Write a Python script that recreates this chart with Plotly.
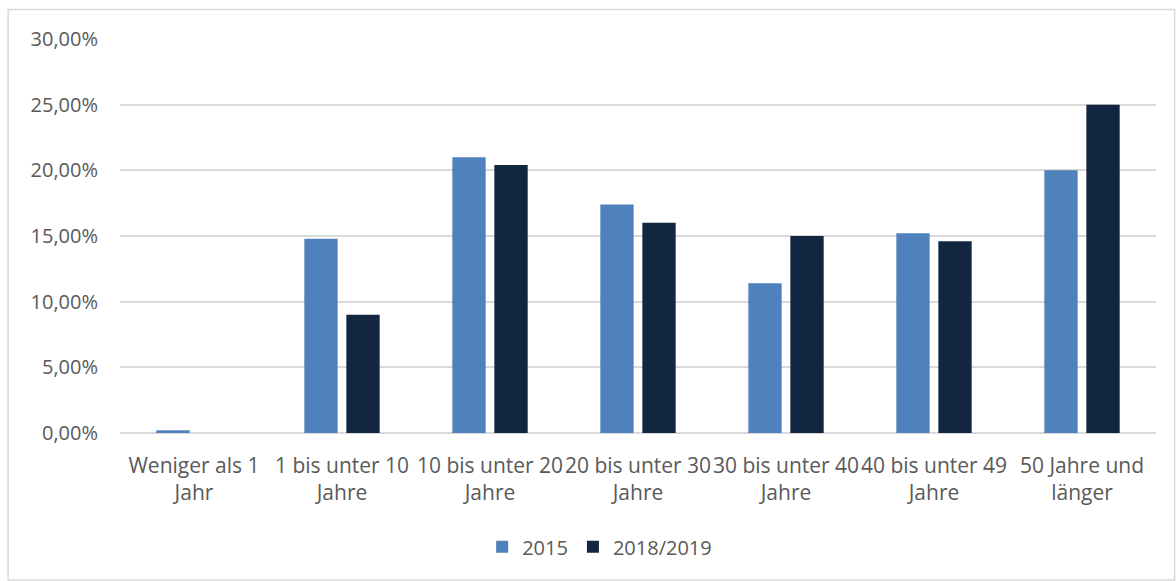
import plotly.graph_objects as go

categories = ["Weniger als 1<br>Jahr", "1 bis unter 10<br>Jahre", "10 bis unter 20<br>Jahre",
              "20 bis unter 30<br>Jahre", "30 bis unter 40<br>Jahre", "40 bis unter 49<br>Jahre",
              "50 Jahre und<br>länger"]
values_2015 = [0.2, 14.8, 21.0, 17.4, 11.4, 15.2, 20.0]
values_2018 = [0.0, 9.0, 20.4, 16.0, 15.0, 14.6, 25.0]
tick_values = [0, 5, 10, 15, 20, 25, 30]
tick_labels = ["0,00%", "5,00%", "10,00%", "15,00%", "20,00%", "25,00%", "30,00%"]

FONT = "Open Sans"
TXT = "#595959"

fig = go.Figure()
fig.add_trace(go.Bar(name="2015", x=categories, y=values_2015, marker_color="#4f81bd",
                     marker_line_width=0))
fig.add_trace(go.Bar(name="2018/2019", x=categories, y=values_2018, marker_color="#12263f",
                     marker_line_width=0))

fig.update_layout(
    width=1176, height=581,
    margin=dict(l=120, r=20, t=39, b=148),
    paper_bgcolor="white", plot_bgcolor="white",
    barmode="group", bargap=0.432, bargroupgap=0.207,
    font=dict(family=FONT, size=20, color=TXT),
    showlegend=True,
    legend=dict(orientation="h", x=0.463, xanchor="center", y=-0.289, yanchor="middle",
                font=dict(size=20, color=TXT), itemwidth=30, traceorder="normal"),
    xaxis=dict(showgrid=False, showline=False, ticks="", tickfont=dict(size=21, color=TXT),
               tickangle=0, ticklabelstandoff=18),
    yaxis=dict(range=[0, 30], tickvals=tick_values, ticktext=tick_labels,
               showgrid=True, gridcolor="#d9d9d9", gridwidth=1.5, zeroline=True,
               zerolinecolor="#d9d9d9", zerolinewidth=1.5, showline=False, ticks="",
               ticklabelstandoff=21, tickfont=dict(size=20, color=TXT)),
    shapes=[dict(type="rect", xref="paper", yref="paper",
                 x0=-0.108, x1=1.018, y0=-0.373, y1=1.075,
                 line=dict(color="#d9d9d9", width=1.5), fillcolor="rgba(0,0,0,0)", layer="below")],
)

fig.write_html("out.html")
